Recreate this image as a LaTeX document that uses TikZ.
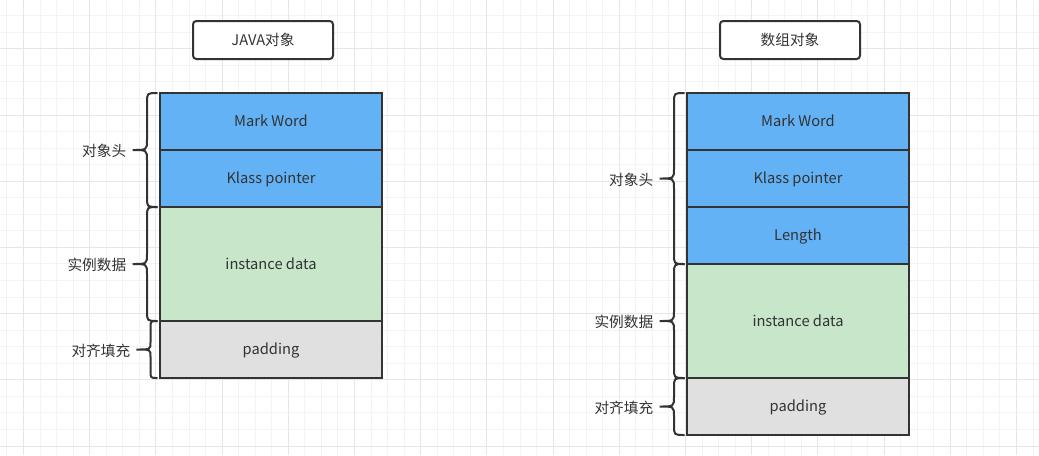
\documentclass[tikz,border=0pt]{standalone}
\usepackage{fontspec}
\setmainfont{Noto Sans CJK SC}
\usepackage{tikz}
\usetikzlibrary{positioning,calc}

\definecolor{linecol}{HTML}{333333}
\definecolor{headblue}{HTML}{62B2F5}
\definecolor{datagreen}{HTML}{C8E6C9}
\definecolor{padgray}{HTML}{E0E0E0}
\definecolor{minorgrid}{HTML}{F3F3F3}
\definecolor{majorgrid}{HTML}{E6E6E6}

\tikzset{
  cell/.style={draw=linecol, line width=1.5pt, minimum width=166.5pt, minimum height=42.75pt,
    inner sep=0pt, outer sep=0pt, text=linecol, text height=8pt, text depth=0pt,
    font=\fontsize{11pt}{13pt}\selectfont},
  headcell/.style={cell, fill=headblue},
  datacell/.style={cell, fill=datagreen, minimum height=85.5pt},
  padcell/.style={cell, fill=padgray},
  titlebox/.style={cell, fill=white, rounded corners=2.5pt, minimum width=105pt, minimum height=28.5pt},
  bracket/.style={draw=linecol, line width=1.5pt},
  bracelabel/.style={anchor=east, inner sep=0pt, text=linecol, font=\fontsize{11pt}{13pt}\selectfont}
}

% brace left of a block: top, bottom, offset, curl, width, name, label
\newcommand{\objbrace}[7]{%
  \coordinate (#6t) at ($(#1)+(-2.5,0)$);
  \coordinate (#6b) at ($(#2)+(-2.5,0)$);
  \coordinate (#6m) at ($(#6t)!0.5!(#6b)$);
  \draw[bracket] (#6t) .. controls ($(#6t)+(-#3,0)$) .. ($(#6t)+(-#3,#4)$)
    -- ($(#6m)+(-#3,-#4)$) .. controls ($(#6m)+(-#3,0)$) .. ($(#6m)+(-#5,0)$)
    .. controls ($(#6m)+(-#3,0)$) .. ($(#6m)+(-#3,#4)$)
    -- ($(#6b)+(-#3,-#4)$) .. controls ($(#6b)+(-#3,0)$) .. (#6b);
  \node[bracelabel] (#6) at ($(#6m)+(-#5-6,1)$) {#7};
}

\begin{document}
\begin{tikzpicture}[x=0.75pt,y=-0.75pt]
  \useasboundingbox (0,0) rectangle (1039,455);
  \fill[white] (0,0) rectangle (1039,455);
  \begin{scope}
    \clip (0,0) rectangle (1039,455);
    \foreach \i in {0,...,62}
      \draw[minorgrid, line width=0.75pt] (6.95+16.55*\i,0) -- (6.95+16.55*\i,455);
    \foreach \i in {0,...,26}
      \draw[minorgrid, line width=0.75pt] (0,15.7+16.55*\i) -- (1039,15.7+16.55*\i);
    \foreach \i in {0,...,15}
      \draw[majorgrid, line width=0.75pt] (23.5+66.2*\i,0) -- (23.5+66.2*\i,455);
    \foreach \i in {0,...,6}
      \draw[majorgrid, line width=0.75pt] (0,48.8+66.2*\i) -- (1039,48.8+66.2*\i);
  \end{scope}

  % JAVA object
  \node[titlebox] (jt) at (263,40) {JAVA对象};
  \node[headcell] (jmw) at (271,121.5) {Mark Word};
  \node[headcell, below=0pt of jmw] (jkp) {Klass pointer};
  \node[datacell, below=0pt of jkp] (jid) {instance data};
  \node[padcell, below=0pt of jid] (jpd) {padding};
  \objbrace{jmw.north west}{jkp.south west}{10.5}{10}{25}{jh}{对象头}
  \objbrace{jid.north west}{jid.south west}{10.5}{10}{25}{jd}{实例数据}
  \objbrace{jpd.north west}{jpd.south west}{7}{7}{21}{jp}{对齐填充}

  % array object
  \node[titlebox] (at) at (790,40) {数组对象};
  \node[headcell] (amw) at (798,121.5) {Mark Word};
  \node[headcell, below=0pt of amw] (akp) {Klass pointer};
  \node[headcell, below=0pt of akp] (alen) {Length};
  \node[datacell, below=0pt of alen] (aid) {instance data};
  \node[padcell, below=0pt of aid] (apd) {padding};
  \objbrace{amw.north west}{alen.south west}{10.5}{10}{25}{ah}{对象头}
  \objbrace{aid.north west}{aid.south west}{10.5}{10}{25}{ad}{实例数据}
  \objbrace{apd.north west}{apd.south west}{10.5}{10}{25}{ap}{对齐填充}
\end{tikzpicture}
\end{document}
